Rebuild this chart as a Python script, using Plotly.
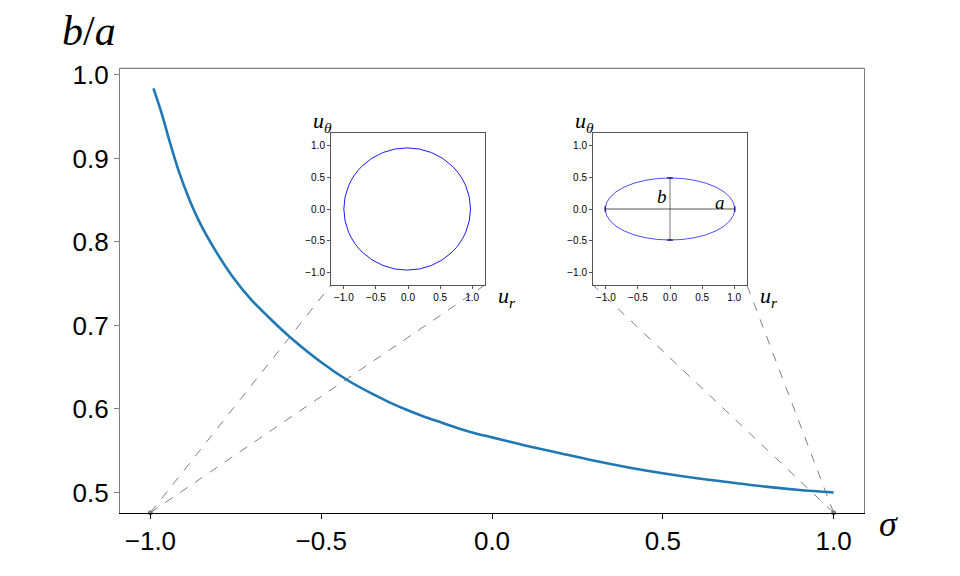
import numpy as np
import plotly.graph_objects as go

# ---- data ----
sigma = [-0.991, -0.967, -0.942, -0.918, -0.889, -0.854, -0.810, -0.762, -0.703, -0.644,
         -0.591, -0.5, -0.425, -0.35, -0.3, -0.25, -0.2, -0.15, -0.1, -0.05, 0.0,
         0.1, 0.2, 0.3, 0.4, 0.5, 0.6, 0.7, 0.8, 0.9, 1.0]
ratio = [0.984, 0.954, 0.918, 0.886, 0.854, 0.822, 0.790, 0.760, 0.730, 0.706,
         0.686, 0.656, 0.635, 0.618, 0.608, 0.599, 0.591, 0.584, 0.577, 0.571, 0.566,
         0.556, 0.547, 0.538, 0.530, 0.523, 0.517, 0.512, 0.507, 0.503, 0.500]

# inset ellipses: centre, semi-axis a (u_r), semi-axis b (u_theta)
circle_center = [-0.013, 0.0]
circle_axes = [0.987, 0.965]
ellipse_center = [0.0, 0.0]
ellipse_axes = [1.01, 0.49]

# sigma values marked by the insets
marked_sigma = [-1.0, 1.0]

inset_ticks = [-1.0, -0.5, 0.0, 0.5, 1.0]
main_xticks = [-1.0, -0.5, 0.0, 0.5, 1.0]
main_yticks = [0.5, 0.6, 0.7, 0.8, 0.9, 1.0]

# ---- layout geometry ----
W, H = 960, 576
main_xr = [-1.089, 1.089]
main_yr = [0.4758, 1.008]
main_xd = [120 / W, 864 / W]
main_yd = [1 - 512.7 / H, 1 - 68.3 / H]
inset_r = [-1.2, 1.2]
in1_xd = [331 / W, 485 / W]
in2_xd = [593 / W, 747 / W]
in_yd = [1 - 285 / H, 1 - 133 / H]

GREY = "#808080"
SERIF = "Liberation Serif"
SANS = "Liberation Sans"


def to_paper(v, rng, dom):
    return dom[0] + (v - rng[0]) / (rng[1] - rng[0]) * (dom[1] - dom[0])


fig = go.Figure()

# main curve
fig.add_trace(go.Scatter(x=sigma, y=ratio, mode="lines",
                         line=dict(color="#1f77b4", width=2.6, shape="spline", smoothing=0.8),
                         xaxis="x", yaxis="y", showlegend=False, hoverinfo="skip"))

# marked points at the bottom of the main axes
fig.add_trace(go.Scatter(x=marked_sigma, y=[main_yr[0]] * len(marked_sigma), mode="markers",
                         marker=dict(color=GREY, size=5), cliponaxis=False,
                         xaxis="x", yaxis="y", showlegend=False, hoverinfo="skip"))

# inset curves: drawn as ellipse shapes on the inset axes
fig.add_shape(type="circle", xref="x2", yref="y2",
              x0=circle_center[0] - circle_axes[0], x1=circle_center[0] + circle_axes[0],
              y0=circle_center[1] - circle_axes[1], y1=circle_center[1] + circle_axes[1],
              line=dict(color="blue", width=0.9))
fig.add_shape(type="circle", xref="x3", yref="y3",
              x0=ellipse_center[0] - ellipse_axes[0], x1=ellipse_center[0] + ellipse_axes[0],
              y0=ellipse_center[1] - ellipse_axes[1], y1=ellipse_center[1] + ellipse_axes[1],
              line=dict(color="blue", width=0.7))

# a and b segments on the ellipse inset
fig.add_trace(go.Scatter(x=[ellipse_center[0] - ellipse_axes[0], ellipse_center[0] + ellipse_axes[0]],
                         y=[ellipse_center[1], ellipse_center[1]], mode="lines+markers",
                         line=dict(color="rgba(0,0,0,0.75)", width=0.9),
                         marker=dict(symbol="line-ns", size=4, line=dict(width=1.2, color="black")),
                         xaxis="x3", yaxis="y3", showlegend=False, hoverinfo="skip"))
fig.add_trace(go.Scatter(x=[ellipse_center[0], ellipse_center[0]],
                         y=[ellipse_center[1] - ellipse_axes[1], ellipse_center[1] + ellipse_axes[1]],
                         mode="lines+markers",
                         line=dict(color="rgba(0,0,0,0.6)", width=0.9),
                         marker=dict(symbol="line-ew", size=4, line=dict(width=1.2, color="black")),
                         xaxis="x3", yaxis="y3", showlegend=False, hoverinfo="skip"))

# connector lines (dashed) from marked points to inset lower corners
for s, dom in zip(marked_sigma, [in1_xd, in2_xd]):
    px = to_paper(s, main_xr, main_xd)
    py = main_yd[0]
    for cx in dom:
        fig.add_shape(type="line", xref="paper", yref="paper",
                      x0=px, y0=py, x1=cx, y1=in_yd[0],
                      line=dict(color=GREY, width=1, dash="dash"), layer="below")

# top spine of main axes (grey)
fig.add_shape(type="line", xref="x domain", yref="y domain", x0=0, x1=1, y0=1, y1=1,
              line=dict(color=GREY, width=1.3))

main_tick_font = dict(family=SANS, size=26, color="black")
inset_tick_font = dict(family=SANS, size=10, color="black")

inset_axis_common = dict(range=inset_r, tickvals=inset_ticks, tickformat=".1f", automargin=False,
                         showgrid=False, zeroline=False, showline=True, mirror=True,
                         linecolor="#555555", linewidth=1, ticks="outside", ticklen=3,
                         tickcolor="#555555", tickfont=inset_tick_font)

fig.update_layout(
    width=W, height=H, margin=dict(l=0, r=0, t=0, b=0, pad=0),
    paper_bgcolor="white", plot_bgcolor="white",
    xaxis=dict(domain=main_xd, range=main_xr, tickvals=main_xticks, tickformat=".1f",
               automargin=False,
               showgrid=False, zeroline=False, showline=True, linecolor="black", linewidth=1.3,
               ticks="outside", ticklen=5, tickcolor="black", tickfont=main_tick_font,
               anchor="y"),
    yaxis=dict(domain=main_yd, range=main_yr, tickvals=main_yticks, tickformat=".1f",
               automargin=False,
               showgrid=False, zeroline=False, showline=True, mirror=True, linecolor=GREY,
               linewidth=1.3, ticks="outside", ticklen=5, tickcolor=GREY, tickfont=main_tick_font,
               anchor="x"),
    xaxis2=dict(domain=in1_xd, anchor="y2", **inset_axis_common),
    yaxis2=dict(domain=in_yd, anchor="x2", **inset_axis_common),
    xaxis3=dict(domain=in2_xd, anchor="y3", **inset_axis_common),
    yaxis3=dict(domain=in_yd, anchor="x3", **inset_axis_common),
)

ann = []
# main axis labels
ann.append(dict(text="<i>b</i>/<i>a</i>", x=89 / W, y=1 - 31 / H, xref="paper", yref="paper",
                showarrow=False, font=dict(family=SERIF, size=42, color="black"),
                xanchor="center", yanchor="middle"))
ann.append(dict(text="<i>σ</i>", x=888 / W, y=1 - 524 / H, xref="paper", yref="paper",
                showarrow=False, font=dict(family=SERIF, size=36, color="black"),
                xanchor="center", yanchor="middle"))
# inset axis labels
for dom in [in1_xd, in2_xd]:
    ann.append(dict(text="<i>u</i><sub><i>θ</i></sub>", x=dom[0] - 9 / W, y=1 - 122 / H,
                    xref="paper", yref="paper", showarrow=False,
                    font=dict(family=SERIF, size=22, color="black"),
                    xanchor="center", yanchor="middle"))
    ann.append(dict(text="<i>u</i><sub><i>r</i></sub>", x=dom[1] + 22 / W, y=1 - 297 / H,
                    xref="paper", yref="paper", showarrow=False,
                    font=dict(family=SERIF, size=22, color="black"),
                    xanchor="center", yanchor="middle"))
# a and b labels in ellipse inset
ann.append(dict(text="<i>b</i>", x=-0.12, y=0.2, xref="x3", yref="y3", showarrow=False,
                font=dict(family=SERIF, size=19, color="black")))
ann.append(dict(text="<i>a</i>", x=0.78, y=0.1, xref="x3", yref="y3", showarrow=False,
                font=dict(family=SERIF, size=19, color="black")))
fig.update_layout(annotations=ann)

fig.write_html("out.html", config={"displayModeBar": False},
               post_script="document.body.style.margin='0';")
